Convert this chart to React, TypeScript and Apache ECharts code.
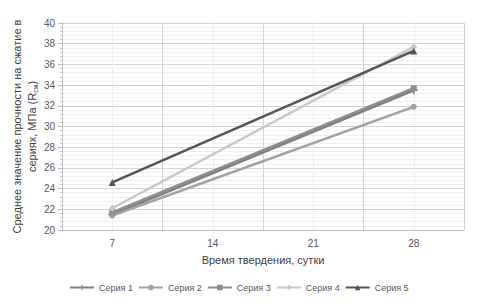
import React, { useEffect, useRef } from "react";
import * as echarts from "echarts";

const days = [7, 28];
const xTicks = [7, 14, 21, 28];
const seriesNames = ["Серия 1", "Серия 2", "Серия 3", "Серия 4", "Серия 5"];
const seria1 = [21.5, 33.5];
const seria2 = [21.4, 31.9];
const seria3 = [21.7, 33.7];
const seria4 = [22.1, 37.7];
const seria5 = [24.6, 37.3];

const seriesValues = [seria1, seria2, seria3, seria4, seria5];
const colors = ["#808080", "#a2a2a2", "#8e8e8e", "#c9c9c9", "#555555"];
const symbols = [
  "path://M0,4H10V6H0Z M4,0H6V10H4Z",
  "circle",
  "rect",
  "diamond",
  "triangle",
];
const symbolSizes = [8, 6, 6, 7, 7];

const FONT = "Liberation Sans";

export default function App() {
  const ref = useRef<HTMLDivElement>(null);
  useEffect(() => {
    if (!ref.current) return;
    const chart = echarts.init(ref.current, undefined, { renderer: "svg" });
    chart.setOption({
      animation: false,
      backgroundColor: "#ffffff",
      textStyle: { fontFamily: FONT },
      grid: { left: 62, right: 26, top: 23, bottom: 74, outerBoundsMode: "none" },
      legend: {
        bottom: 7,
        left: 64,
        itemWidth: 24,
        itemHeight: 7,
        itemGap: 5,
        textStyle: { fontSize: 9, color: "#595959", fontFamily: FONT },
        data: seriesNames,
      },
      xAxis: {
        type: "value",
        min: 3.5,
        max: 31.5,
        interval: 3.5,
        name: "Время твердения, сутки",
        nameLocation: "middle",
        nameGap: 24,
        nameMoveOverlap: false,
        nameTextStyle: { fontSize: 11, color: "#404040", fontFamily: FONT },
        axisLine: { show: true, lineStyle: { color: "#bfbfbf", width: 1 } },
        axisTick: { show: false },
        axisLabel: {
          fontSize: 10,
          color: "#595959",
          margin: 8,
          showMinLabel: true,
          showMaxLabel: true,
          formatter: (v: number) => (xTicks.indexOf(v) >= 0 ? String(v) : ""),
        },
        splitLine: {
          show: true,
          lineStyle: { color: ["#d4d4d4", "#eeeeee"], width: 1 },
        },
      },
      yAxis: {
        type: "value",
        min: 20,
        max: 40,
        interval: 2,
        name:
          "{a|Среднее значение прочности на сжатие в}\n{a|сериях, МПа (R}{sub|сж}{a|)}",
        nameLocation: "middle",
        nameRotate: 90,
        nameGap: 23,
        nameMoveOverlap: false,
        nameTextStyle: {
          color: "#404040",
          fontFamily: FONT,
          align: "center",
          rich: {
            a: { fontSize: 11, lineHeight: 15, color: "#404040", fontFamily: FONT },
            sub: {
              fontSize: 7,
              lineHeight: 15,
              verticalAlign: "bottom",
              color: "#404040",
              fontFamily: FONT,
            },
          },
        },
        axisLine: { show: true, lineStyle: { color: "#bfbfbf", width: 1 } },
        axisTick: { show: true, length: 4, lineStyle: { color: "#bfbfbf" } },
        minorTick: { show: true, splitNumber: 5, length: 2, lineStyle: { color: "#c8c8c8" } },
        axisLabel: { fontSize: 10, color: "#595959", margin: 7 },
        splitLine: { show: true, lineStyle: { color: "#d4d4d4", width: 1 } },
        minorSplitLine: { show: true, lineStyle: { color: "#f0f0f0", width: 1 } },
      },
      series: seriesNames.map((name, i) => ({
        name,
        type: "line",
        data: days.map((d, j) => [d, seriesValues[i][j]]),
        symbol: symbols[i],
        symbolSize: symbolSizes[i],
        showAllSymbol: true,
        lineStyle: { color: colors[i], width: 2.5 },
        itemStyle: { color: colors[i] },
        z: 2 + i,
      })),
    });
    return () => chart.dispose();
  }, []);
  return (
    <div
      ref={ref}
      style={{ position: "fixed", left: 0, top: 0, width: 490, height: 304 }}
    />
  );
}
